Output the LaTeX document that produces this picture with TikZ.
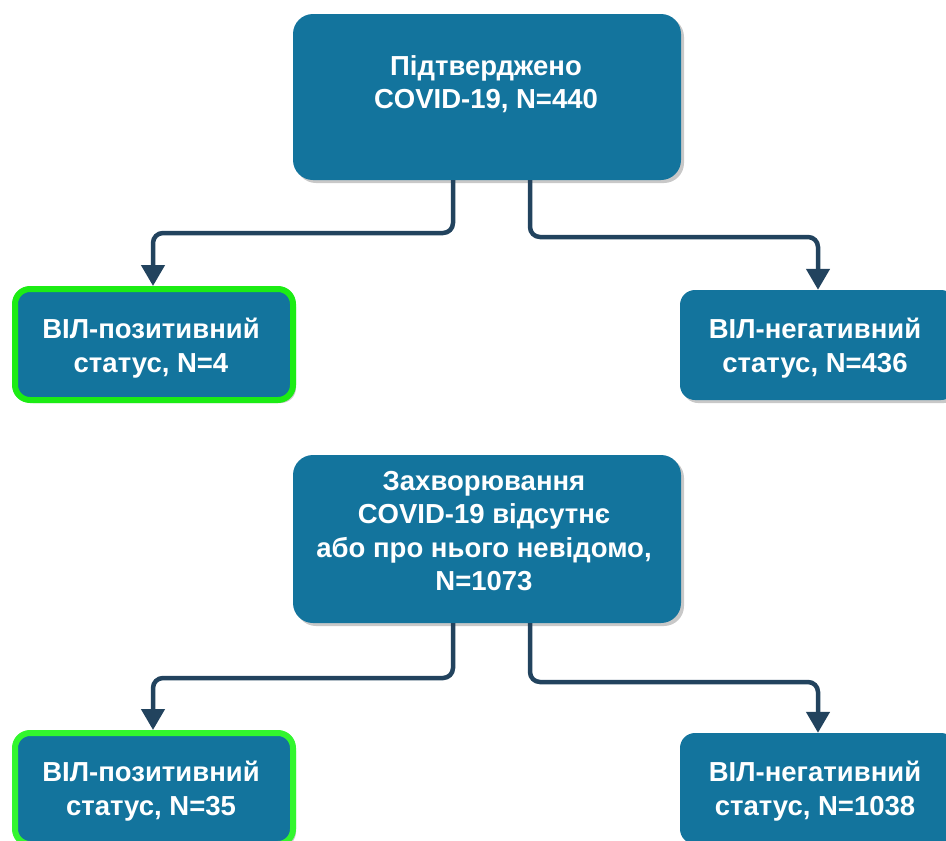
\documentclass[tikz,border=0pt]{standalone}
\usepackage{fontspec}
\setmainfont{Liberation Sans}
\usetikzlibrary{arrows.meta,shadows}
\definecolor{boxblue}{RGB}{19,116,157}
\definecolor{connc}{RGB}{34,67,94}
\definecolor{greenA}{RGB}{28,236,20}
\definecolor{greenB}{RGB}{50,246,46}
\definecolor{shadowc}{RGB}{200,200,200}
\tikzset{
  boxbase/.style={rectangle, fill=boxblue, inner sep=0pt,
    drop shadow={shadow xshift=3pt, shadow yshift=-3pt, fill=shadowc, opacity=1}},
  bigbox/.style={boxbase, rounded corners=20pt, minimum width=388pt},
  smallbox/.style={boxbase, rounded corners=15pt},
  greenedge/.style={draw=#1, line width=6pt},
  boxtext/.style={text=white, align=center, inner sep=0pt,
    font=\bfseries\fontsize{27.5pt}{33.5pt}\selectfont},
  conn/.style={draw=connc, line width=4.5pt, rounded corners=10pt,
    -{Triangle[length=21pt,width=23pt]}},
}
\begin{document}
\begin{tikzpicture}[x=1pt,y=-1pt]
\useasboundingbox (0,0) rectangle (946,841);
% boxes
\node[bigbox, minimum height=166pt] (top) at (487,97) {};
\node[smallbox, greenedge=greenA, minimum width=278pt, minimum height=111pt] (pl1) at (154,344.5) {};
\node[smallbox, minimum width=276pt, minimum height=110pt] (ng1) at (818,345) {};
\node[bigbox, minimum height=168pt] (mid) at (487,539) {};
\node[smallbox, greenedge=greenB, minimum width=278pt, minimum height=111pt] (pl2) at (154,788.5) {};
\node[smallbox, minimum width=276pt, minimum height=111pt] (ng2) at (818,788.5) {};
% texts
\node[boxtext] (ttop) at (486,84) {Підтверджено\\COVID-19, N=440};
\node[boxtext] (tpl1) at (151,348) {ВІЛ-позитивний\\статус, N=4};
\node[boxtext] (tng1) at (815,348) {ВІЛ-негативний\\статус, N=436};
\node[boxtext] (tmid) at (484,531) {Захворювання\\COVID-19 відсутнє\\або про нього невідомо,\\N=1073};
\node[boxtext] (tpl2) at (151,791) {ВІЛ-позитивний\\статус, N=35};
\node[boxtext] (tng2) at (815,791) {ВІЛ-негативний\\статус, N=1038};
% levels
\coordinate (h1) at (0,233);
\coordinate (h2) at (0,237);
\coordinate (h3) at (0,678);
\coordinate (h4) at (0,682);
% connectors
\draw[conn] ([xshift=-34pt]top.south) -- ([xshift=-34pt]top.south |- h1) -| ([xshift=-1pt]pl1.north);
\draw[conn] ([xshift=43pt]top.south) -- ([xshift=43pt]top.south |- h2) -| (ng1.north);
\draw[conn] ([xshift=-34pt]mid.south) -- ([xshift=-34pt]mid.south |- h3) -| ([xshift=-1pt]pl2.north);
\draw[conn] ([xshift=43pt]mid.south) -- ([xshift=43pt]mid.south |- h4) -| (ng2.north);
\end{tikzpicture}
\end{document}
